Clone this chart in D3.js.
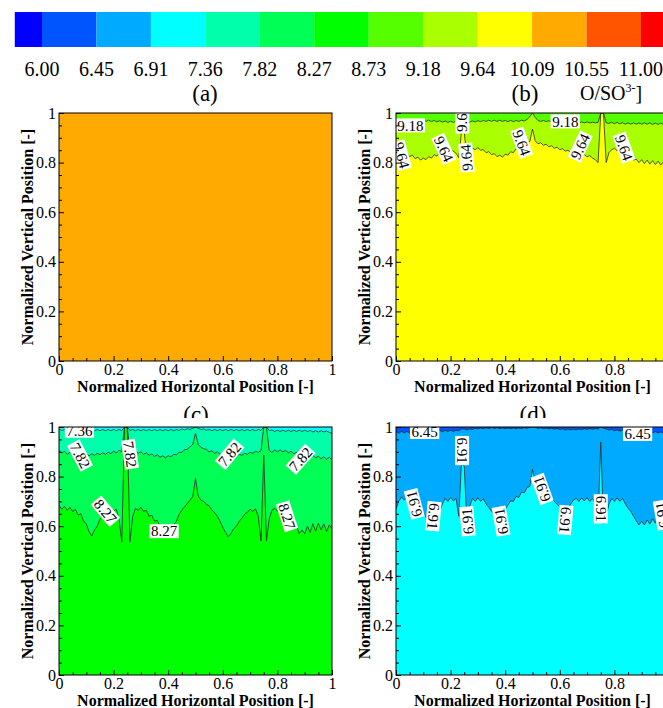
<!DOCTYPE html>
<html>
<head>
<meta charset="utf-8">
<script src="https://cdn.jsdelivr.net/npm/d3@7"></script>
<style>
  body { margin: 0; background: #fff; }
  svg { display: block; font-family: "Liberation Serif", "Times New Roman", serif; }
</style>
</head>
<body>
<svg id="chart" width="663" height="708"></svg>
<script>
// contour levels on the colour bar and the 13 flood colours around them
const levels = [6.00, 6.45, 6.91, 7.36, 7.82, 8.27, 8.73, 9.18, 9.64, 10.09, 10.55, 11.00];
const levelColors = ['#0000FF', '#0055FF', '#00AAFF', '#00FFFF', '#00FFAA', '#00FF55',
                     '#00FF00', '#55FF00', '#AAFF00', '#FFFF00', '#FFAA00', '#FF5500', '#FF0000'];

const axisTicks = [0, 0.2, 0.4, 0.6, 0.8, 1];
const minorTicks = [0.05, 0.1, 0.15, 0.25, 0.3, 0.35, 0.45, 0.5, 0.55, 0.65, 0.7, 0.75, 0.85, 0.9, 0.95];

// contour lines, every 0.01 of horizontal position
const xs = d3.range(101).map(i => i / 100);

const b918 = [0.978,0.972,0.976,0.970,0.975,0.969,0.974,0.968,0.973,0.967,0.972,
  0.966,0.971,0.965,0.970,0.964,0.969,0.963,0.968,0.962,0.967,
  0.962,0.967,0.961,0.966,0.962,0.967,0.963,0.968,0.964,0.969,
  0.965,0.970,0.966,0.971,0.966,0.971,0.966,0.971,0.966,0.970,
  0.965,0.970,0.965,0.970,0.966,0.971,0.968,0.974,0.985,1.000,
  0.982,0.970,0.966,0.970,0.965,0.969,0.964,0.968,0.963,0.967,
  0.962,0.966,0.961,0.965,0.960,0.964,0.960,0.964,0.960,0.964,
  0.960,0.963,0.960,0.962,1.000,1.000,0.960,0.958,0.963,0.957,
  0.962,0.956,0.961,0.955,0.960,0.955,0.960,0.955,0.960,0.955,
  0.960,0.955,0.960,0.954,0.959,0.954,0.959,0.954,0.959,0.956];

const b964 = [0.852,0.840,0.846,0.832,0.838,0.824,0.830,0.816,0.822,0.810,0.818,
  0.812,0.824,0.818,0.832,0.826,0.840,0.834,0.848,0.842,0.852,
  0.846,0.838,0.820,0.925,0.920,0.818,0.845,0.858,0.852,0.860,
  0.850,0.852,0.840,0.844,0.832,0.836,0.824,0.830,0.822,0.834,
  0.830,0.844,0.840,0.856,0.852,0.868,0.864,0.880,0.885,0.935,
  0.888,0.876,0.880,0.870,0.874,0.864,0.868,0.858,0.862,0.852,
  0.856,0.846,0.850,0.840,0.844,0.834,0.838,0.828,0.832,0.824,
  0.828,0.818,0.812,0.800,1.000,1.000,0.800,0.840,0.852,0.858,
  0.848,0.852,0.838,0.840,0.824,0.826,0.810,0.814,0.800,0.812,
  0.796,0.810,0.794,0.808,0.792,0.806,0.790,0.804,0.790,0.800];

const c736 = [0.992,0.986,0.990,0.985,0.990,0.985,0.990,0.985,0.990,0.985,0.990,
  0.985,0.990,0.985,0.990,0.985,0.990,0.985,0.990,0.985,0.990,
  0.985,0.990,0.986,1.000,1.000,0.986,0.990,0.985,0.990,0.985,
  0.990,0.985,0.990,0.985,0.990,0.985,0.990,0.985,0.990,0.985,
  0.990,0.985,0.990,0.986,0.992,0.988,0.993,0.990,0.995,1.000,
  0.995,0.990,0.992,0.987,0.990,0.985,0.990,0.985,0.990,0.985,
  0.990,0.985,0.990,0.985,0.990,0.985,0.990,0.985,0.990,0.985,
  0.990,0.985,0.990,0.986,1.000,1.000,0.986,0.988,0.982,0.987,
  0.982,0.987,0.982,0.987,0.982,0.987,0.982,0.987,0.982,0.987,
  0.982,0.986,0.980,0.985,0.980,0.985,0.980,0.984,0.978,0.975];

const c782 = [0.905,0.895,0.902,0.890,0.898,0.886,0.894,0.884,0.892,0.882,0.890,
  0.884,0.892,0.886,0.894,0.888,0.896,0.890,0.898,0.893,0.902,
  0.896,0.906,0.900,1.000,1.000,0.902,0.896,0.904,0.894,0.900,
  0.890,0.896,0.886,0.892,0.882,0.888,0.878,0.884,0.876,0.884,
  0.880,0.890,0.888,0.898,0.898,0.908,0.910,0.920,0.930,0.975,
  0.930,0.918,0.912,0.910,0.900,0.904,0.894,0.900,0.890,0.896,
  0.886,0.892,0.884,0.890,0.882,0.890,0.886,0.894,0.890,0.898,
  0.894,0.902,0.898,0.905,1.000,1.000,0.905,0.898,0.908,0.900,
  0.908,0.900,0.906,0.896,0.902,0.892,0.898,0.888,0.894,0.884,
  0.890,0.880,0.886,0.876,0.882,0.872,0.880,0.870,0.878,0.868];

const c827 = [0.685,0.668,0.680,0.664,0.676,0.660,0.668,0.645,0.650,0.620,0.610,
  0.578,0.560,0.585,0.600,0.628,0.640,0.668,0.660,0.672,0.662,
  0.668,0.630,0.537,1.000,1.000,0.537,0.640,0.672,0.664,0.676,
  0.660,0.664,0.640,0.644,0.620,0.624,0.600,0.604,0.588,0.596,
  0.590,0.605,0.620,0.648,0.665,0.678,0.692,0.705,0.720,0.793,
  0.722,0.705,0.700,0.688,0.682,0.665,0.655,0.640,0.620,0.595,
  0.575,0.558,0.570,0.590,0.600,0.620,0.632,0.648,0.656,0.668,
  0.660,0.670,0.640,0.540,0.887,0.540,0.630,0.665,0.672,0.662,
  0.668,0.650,0.652,0.630,0.632,0.610,0.600,0.570,0.585,0.570,
  0.600,0.575,0.610,0.580,0.612,0.585,0.610,0.578,0.605,0.590];

const d645 = [0.980,0.975,0.982,0.976,0.982,0.976,0.982,0.977,0.983,0.978,0.984,
  0.979,0.985,0.980,0.985,0.981,0.986,0.981,0.986,0.982,0.987,
  0.982,0.987,0.985,0.992,0.992,0.988,0.992,0.990,0.995,0.992,
  0.996,0.993,0.997,0.994,0.997,0.994,0.997,0.994,0.996,0.993,
  0.996,0.993,0.996,0.993,0.996,0.994,0.997,0.995,0.998,1.000,
  0.998,0.995,0.997,0.993,0.996,0.992,0.995,0.991,0.994,0.990,
  0.993,0.988,0.992,0.988,0.991,0.988,0.992,0.989,0.993,0.990,
  0.994,0.991,0.994,0.992,1.000,0.995,0.992,0.988,0.990,0.985,
  0.988,0.983,0.987,0.982,0.986,0.981,0.985,0.980,0.984,0.979,
  0.983,0.978,0.982,0.977,0.981,0.976,0.980,0.976,0.979,0.975];

const d691 = [0.670,0.700,0.718,0.705,0.716,0.700,0.705,0.688,0.680,0.662,0.655,
  0.636,0.620,0.614,0.625,0.640,0.660,0.690,0.712,0.700,0.716,
  0.702,0.712,0.640,0.860,0.840,0.610,0.680,0.712,0.700,0.715,
  0.700,0.710,0.690,0.676,0.660,0.645,0.640,0.628,0.636,0.668,
  0.685,0.702,0.700,0.720,0.716,0.738,0.734,0.756,0.760,0.830,
  0.775,0.760,0.752,0.742,0.730,0.722,0.712,0.700,0.688,0.678,
  0.662,0.655,0.668,0.690,0.705,0.712,0.700,0.714,0.702,0.715,
  0.700,0.712,0.690,0.615,0.940,0.610,0.640,0.690,0.712,0.700,
  0.714,0.700,0.712,0.690,0.672,0.660,0.640,0.622,0.605,0.620,
  0.605,0.625,0.608,0.630,0.612,0.634,0.615,0.632,0.618,0.625];

// contour labels: text, x, y (data units), angle
const labelsB = [
  ['9.18', 0.053, 0.950, 0], ['9.64', 0.243, 0.976, -90], ['9.64', 0.020, 0.830, 75],
  ['9.64', 0.175, 0.855, 65], ['9.64', 0.258, 0.820, -95], ['9.64', 0.460, 0.880, 70],
  ['9.18', 0.620, 0.966, 0], ['9.64', 0.675, 0.865, -65], ['9.64', 0.835, 0.860, 70]
];
const labelsC = [
  ['7.36', 0.075, 0.985, 0], ['7.82', 0.077, 0.885, 62], ['7.82', 0.260, 0.890, 82],
  ['7.82', 0.625, 0.890, -50], ['7.82', 0.885, 0.870, -48], ['8.27', 0.170, 0.660, 50],
  ['8.27', 0.385, 0.580, 0], ['8.27', 0.835, 0.640, 72]
];
const labelsD = [
  ['6.45', 0.105, 0.980, 0], ['6.45', 0.885, 0.972, 0], ['6.91', 0.242, 0.905, 90],
  ['6.91', 0.067, 0.690, -105], ['6.91', 0.137, 0.640, 95], ['6.91', 0.262, 0.620, -95],
  ['6.91', 0.385, 0.620, -100], ['6.91', 0.535, 0.750, -110], ['6.91', 0.620, 0.625, 95],
  ['6.91', 0.750, 0.670, 90], ['6.91', 0.975, 0.645, -100]
];

const W = 273, H = 248;
const panels = [
  {name: '(a)', left: 59, top: 113, titleX: 205, titleY: 101, base: levelColors[10], bands: [], labels: []},
  {name: '(b)', left: 396, top: 113, titleX: 525, titleY: 101, base: levelColors[9],
   bands: [{values: b964, fill: levelColors[8]}, {values: b918, fill: levelColors[7]}], labels: labelsB},
  {name: '(c)', left: 59, top: 427, titleX: 196, titleY: 422, base: levelColors[6],
   bands: [{values: c827, fill: levelColors[5]}, {values: c782, fill: levelColors[4]}, {values: c736, fill: levelColors[3]}], labels: labelsC},
  {name: '(d)', left: 396, top: 427, titleX: 533, titleY: 422, base: levelColors[3],
   bands: [{values: d691, fill: levelColors[2]}, {values: d645, fill: levelColors[1]}], labels: labelsD}
];

const svg = d3.select('#chart');
const defs = svg.append('defs');

// colour bar
const cbX = d3.scaleLinear().domain([0, levels.length - 1]).range([42, 641]);
svg.append('g')
  .selectAll('rect')
  .data(levelColors)
  .join('rect')
  .attr('x', (d, i) => cbX(Math.max(i - 1, -0.5)))
  .attr('y', 12)
  .attr('width', (d, i) => cbX(Math.min(i, levels.length - 0.5)) - cbX(Math.max(i - 1, -0.5)))
  .attr('height', 35)
  .attr('fill', d => d);

svg.append('g')
  .selectAll('text')
  .data(levels)
  .join('text')
  .attr('x', (d, i) => cbX(i))
  .attr('y', 76)
  .attr('text-anchor', 'middle')
  .attr('font-size', 20)
  .text(d => d.toFixed(2));

const unit = svg.append('text').attr('x', 580).attr('y', 100).attr('font-size', 20);
unit.append('tspan').text('O/SO');
unit.append('tspan').attr('font-size', 12).attr('dy', -8).text('3-');
unit.append('tspan').attr('dy', 8).text(']');

// lower panel titles are partly hidden by the plots below them
defs.append('clipPath').attr('id', 'title-clip')
  .append('rect').attr('x', 0).attr('y', 0).attr('width', 663).attr('height', 418);

const x = d3.scaleLinear().domain([0, 1]).range([0, W]);
const y = d3.scaleLinear().domain([0, 1]).range([H, 0]);
const fmt = d => (d === 0 || d === 1) ? String(d) : d.toFixed(1);

panels.forEach((p, pi) => {
  svg.append('text')
    .attr('x', p.titleX)
    .attr('y', p.titleY)
    .attr('text-anchor', 'middle')
    .attr('font-size', 23)
    .attr('clip-path', 'url(#title-clip)')
    .text(p.name);

  const g = svg.append('g').attr('transform', `translate(${p.left},${p.top})`);

  defs.append('clipPath').attr('id', 'clip-' + pi)
    .append('rect').attr('width', W).attr('height', H);

  const plot = g.append('g').attr('clip-path', `url(#clip-${pi})`);
  plot.append('rect').attr('width', W).attr('height', H).attr('fill', p.base);

  // flood each band from its contour up to the top edge
  const area = d3.area().x((d, j) => x(xs[j])).y0(y(1)).y1(d => y(d));
  const line = d3.line().x((d, j) => x(xs[j])).y(d => y(d));
  p.bands.forEach(b => {
    plot.append('path').datum(b.values).attr('d', area).attr('fill', b.fill);
  });
  p.bands.forEach(b => {
    plot.append('path').datum(b.values).attr('d', line)
      .attr('fill', 'none').attr('stroke', '#2b2b2b').attr('stroke-width', 0.8);
  });

  const lab = plot.selectAll('g.lab')
    .data(p.labels)
    .join('g')
    .attr('class', 'lab')
    .attr('transform', d => `translate(${x(d[1])},${y(d[2])}) rotate(${d[3]})`);
  lab.append('rect').attr('fill', '#fff');
  lab.append('text')
    .attr('text-anchor', 'middle')
    .attr('dy', '0.34em')
    .attr('font-size', 15)
    .text(d => d[0]);
  lab.each(function () {
    const t = d3.select(this).select('text').node().getComputedTextLength();
    d3.select(this).select('rect')
      .attr('x', -t / 2 - 1.5).attr('y', -7).attr('width', t + 3).attr('height', 14);
  });

  // axes with inward ticks
  const styleAxis = a => {
    a.select('.domain').remove();
    a.attr('font-family', null).attr('font-size', 16);
  };
  g.append('g').attr('transform', `translate(0,${H})`)
    .call(d3.axisBottom(x).tickValues(minorTicks).tickSize(-3).tickFormat(''))
    .call(styleAxis);
  g.append('g').attr('transform', `translate(0,${H})`)
    .call(d3.axisBottom(x).tickValues(axisTicks).tickSize(-5).tickPadding(3).tickFormat(fmt))
    .call(styleAxis);
  g.append('g')
    .call(d3.axisLeft(y).tickValues(minorTicks).tickSize(-3).tickFormat(''))
    .call(styleAxis);
  g.append('g')
    .call(d3.axisLeft(y).tickValues(axisTicks).tickSize(-5).tickPadding(3).tickFormat(fmt))
    .call(styleAxis);

  g.append('rect').attr('width', W).attr('height', H)
    .attr('fill', 'none').attr('stroke', '#000').attr('stroke-width', 1);

  g.append('text')
    .attr('x', W / 2)
    .attr('y', H + 31)
    .attr('text-anchor', 'middle')
    .attr('font-size', 16)
    .attr('font-weight', 'bold')
    .text('Normalized Horizontal Position [-]');

  g.append('text')
    .attr('transform', `translate(-26,${H / 2}) rotate(-90)`)
    .attr('text-anchor', 'middle')
    .attr('font-size', 16)
    .attr('font-weight', 'bold')
    .text('Normalized Vertical Position [-]');
});
</script>
</body>
</html>
